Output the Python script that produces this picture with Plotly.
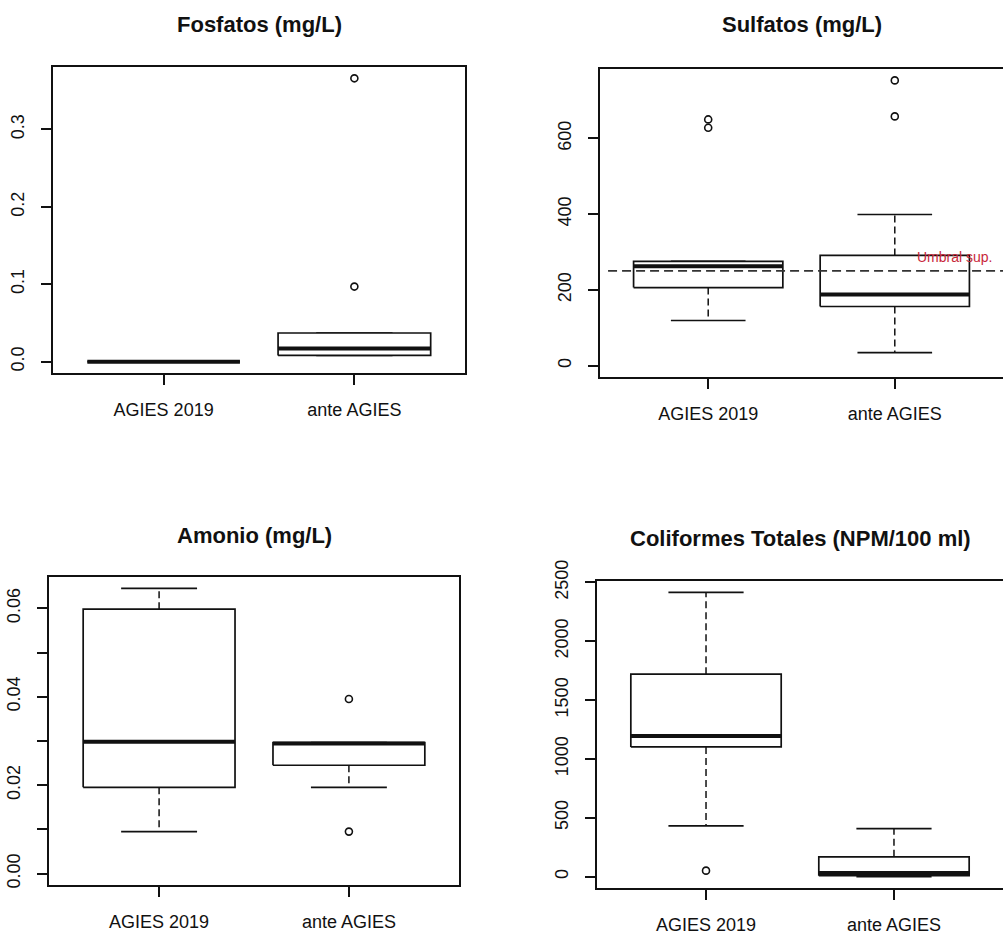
import plotly.graph_objects as go

W, H = 1003, 935
groups = ["AGIES 2019", "ante AGIES"]

titles = ["Fosfatos (mg/L)", "Sulfatos (mg/L)", "Amonio (mg/L)", "Coliformes Totales (NPM/100 ml)"]

# box statistics per panel: [AGIES 2019, ante AGIES]
fos_lo = [0.0, 0.008]
fos_q1 = [0.0, 0.008]
fos_med = [0.0, 0.017]
fos_q3 = [0.0, 0.037]
fos_hi = [0.0, 0.037]
fos_out = [[], [0.097, 0.366]]

sul_lo = [119, 34]
sul_q1 = [206, 156]
sul_med = [262, 188]
sul_q3 = [275, 291]
sul_hi = [275, 399]
sul_out = [[628, 650], [658, 753]]
sul_threshold = 250

amo_lo = [0.0095, 0.0195]
amo_q1 = [0.0195, 0.0245]
amo_med = [0.0298, 0.0294]
amo_q3 = [0.0598, 0.0296]
amo_hi = [0.0645, 0.0296]
amo_out = [[], [0.0095, 0.0395]]

col_lo = [432, 0]
col_q1 = [1102, 8]
col_med = [1195, 30]
col_q3 = [1720, 168]
col_hi = [2415, 407]
col_out = [[51], []]

ylims = [(0, 0.366), (0, 753), (0, 0.0645), (0, 2415)]
yticks = [
    ([0, 0.1, 0.2, 0.3], ["0.0", "0.1", "0.2", "0.3"]),
    ([0, 200, 400, 600], ["0", "200", "400", "600"]),
    ([0, 0.01, 0.02, 0.03, 0.04, 0.05, 0.06], ["0.00", "", "0.02", "", "0.04", "", "0.06"]),
    ([0, 500, 1000, 1500, 2000, 2500], ["0", "500", "1000", "1500", "2000", "2500"]),
]

panels = [
    (fos_lo, fos_q1, fos_med, fos_q3, fos_hi, fos_out),
    (sul_lo, sul_q1, sul_med, sul_q3, sul_hi, sul_out),
    (amo_lo, amo_q1, amo_med, amo_q3, amo_hi, amo_out),
    (col_lo, col_q1, col_med, col_q3, col_hi, col_out),
]

# pixel frames in the window (left, right, top, bottom)
frames = [(53, 465, 67, 373), (600, 1003, 69, 377), (49, 459, 577, 885), (597, 1003, 581, 888)]
title_y = [25, 25, 535, 538]

BOXWEX = 0.8
INK = "#111111"
FONT = "Liberation Sans, Arial, sans-serif"

fig = go.Figure()

for p, (lo, q1, med, q3, hi, out) in enumerate(panels):
    xa = "x" if p == 0 else f"x{p+1}"
    ya = "y" if p == 0 else f"y{p+1}"
    for i in range(len(groups)):
        c = i + 1
        hw = BOXWEX / 2
        # whiskers (dashed)
        fig.add_trace(go.Scatter(x=[c, c, None, c, c], y=[q3[i], hi[i], None, q1[i], lo[i]],
                                 mode="lines", line=dict(color=INK, width=1.5, dash="7px,4px"),
                                 xaxis=xa, yaxis=ya, showlegend=False, hoverinfo="skip"))
        # staples
        fig.add_trace(go.Scatter(x=[c - hw / 2, c + hw / 2, None, c - hw / 2, c + hw / 2],
                                 y=[hi[i], hi[i], None, lo[i], lo[i]],
                                 mode="lines", line=dict(color=INK, width=1.7),
                                 xaxis=xa, yaxis=ya, showlegend=False, hoverinfo="skip"))
        # box
        fig.add_trace(go.Scatter(x=[c - hw, c + hw, c + hw, c - hw, c - hw],
                                 y=[q1[i], q1[i], q3[i], q3[i], q1[i]],
                                 mode="lines", fill="toself", fillcolor="white",
                                 line=dict(color=INK, width=1.7),
                                 xaxis=xa, yaxis=ya, showlegend=False, hoverinfo="skip"))
        # median
        fig.add_trace(go.Scatter(x=[c - hw, c + hw], y=[med[i], med[i]],
                                 mode="lines", line=dict(color=INK, width=4),
                                 xaxis=xa, yaxis=ya, showlegend=False, hoverinfo="skip"))
        # outliers
        if out[i]:
            fig.add_trace(go.Scatter(x=[c] * len(out[i]), y=out[i], mode="markers",
                                     marker=dict(symbol="circle-open", size=7, color=INK,
                                                 line=dict(width=1.6, color=INK)),
                                     xaxis=xa, yaxis=ya, showlegend=False, hoverinfo="skip"))

layout = dict(template="none", width=W, height=H,
              margin=dict(l=0, r=0, t=0, b=0, autoexpand=False),
              paper_bgcolor="white", plot_bgcolor="white",
              font=dict(family=FONT, color=INK))
annotations = []
shapes = []


def px_x(v):
    return v / W


def px_y(v):
    return 1 - v / H


for p in range(4):
    L, R, T, B = frames[p]
    xk = "xaxis" if p == 0 else f"xaxis{p+1}"
    yk = "yaxis" if p == 0 else f"yaxis{p+1}"
    ya = "y" if p == 0 else f"y{p+1}"
    lo_v, hi_v = ylims[p]
    ext = 0.04 * (hi_v - lo_v)
    right_panel = p in (1, 3)
    layout[xk] = dict(domain=[px_x(L), min(px_x(R), 1.0)], anchor=ya, range=[0.42, 2.58],
                      tickvals=[1, 2], ticktext=groups, showgrid=False, zeroline=False,
                      automargin=False,
                      showline=True, mirror=True, linecolor=INK, linewidth=1.7,
                      ticks="outside", ticklen=10, tickwidth=1.6, tickcolor=INK,
                      ticklabelstandoff=10, tickfont=dict(size=18, family=FONT, color=INK))
    layout[yk] = dict(domain=[px_y(B), px_y(T)], anchor=("x" if p == 0 else f"x{p+1}"),
                      range=[lo_v - ext, hi_v + ext], automargin=False,
                      tickvals=yticks[p][0], ticktext=yticks[p][1],
                      showgrid=False, zeroline=False, showline=True, mirror=not right_panel,
                      linecolor=INK, linewidth=1.7, ticks="outside", ticklen=10, tickwidth=1.6,
                      tickcolor=INK, tickangle=-90, ticklabelstandoff=10,
                      tickfont=dict(size=18, family=FONT, color=INK))
    annotations.append(dict(text=f"<b>{titles[p]}</b>", xref="paper", yref="paper",
                            x=px_x((L + R) / 2), y=px_y(title_y[p]), xanchor="center",
                            yanchor="middle", showarrow=False,
                            font=dict(size=22, family=FONT, color=INK)))

# threshold line in Sulfatos
shapes.append(dict(type="line", xref="x2 domain", yref="y2", x0=0.02, x1=1.0,
                   y0=sul_threshold, y1=sul_threshold,
                   line=dict(color="#333333", width=1.6, dash="9px,5px")))
annotations.append(dict(text="Umbral sup.", xref="x2", yref="y2", x=2.11, y=sul_threshold,
                        xanchor="left", yanchor="bottom", yshift=4, showarrow=False,
                        font=dict(size=14, family=FONT, color="#c8283a")))

layout["annotations"] = annotations
layout["shapes"] = shapes
fig.update_layout(**layout)
fig.write_html(
    "out.html",
    config={"displayModeBar": False},
    post_script="document.body.style.margin='0';document.body.style.overflow='hidden';",
)
